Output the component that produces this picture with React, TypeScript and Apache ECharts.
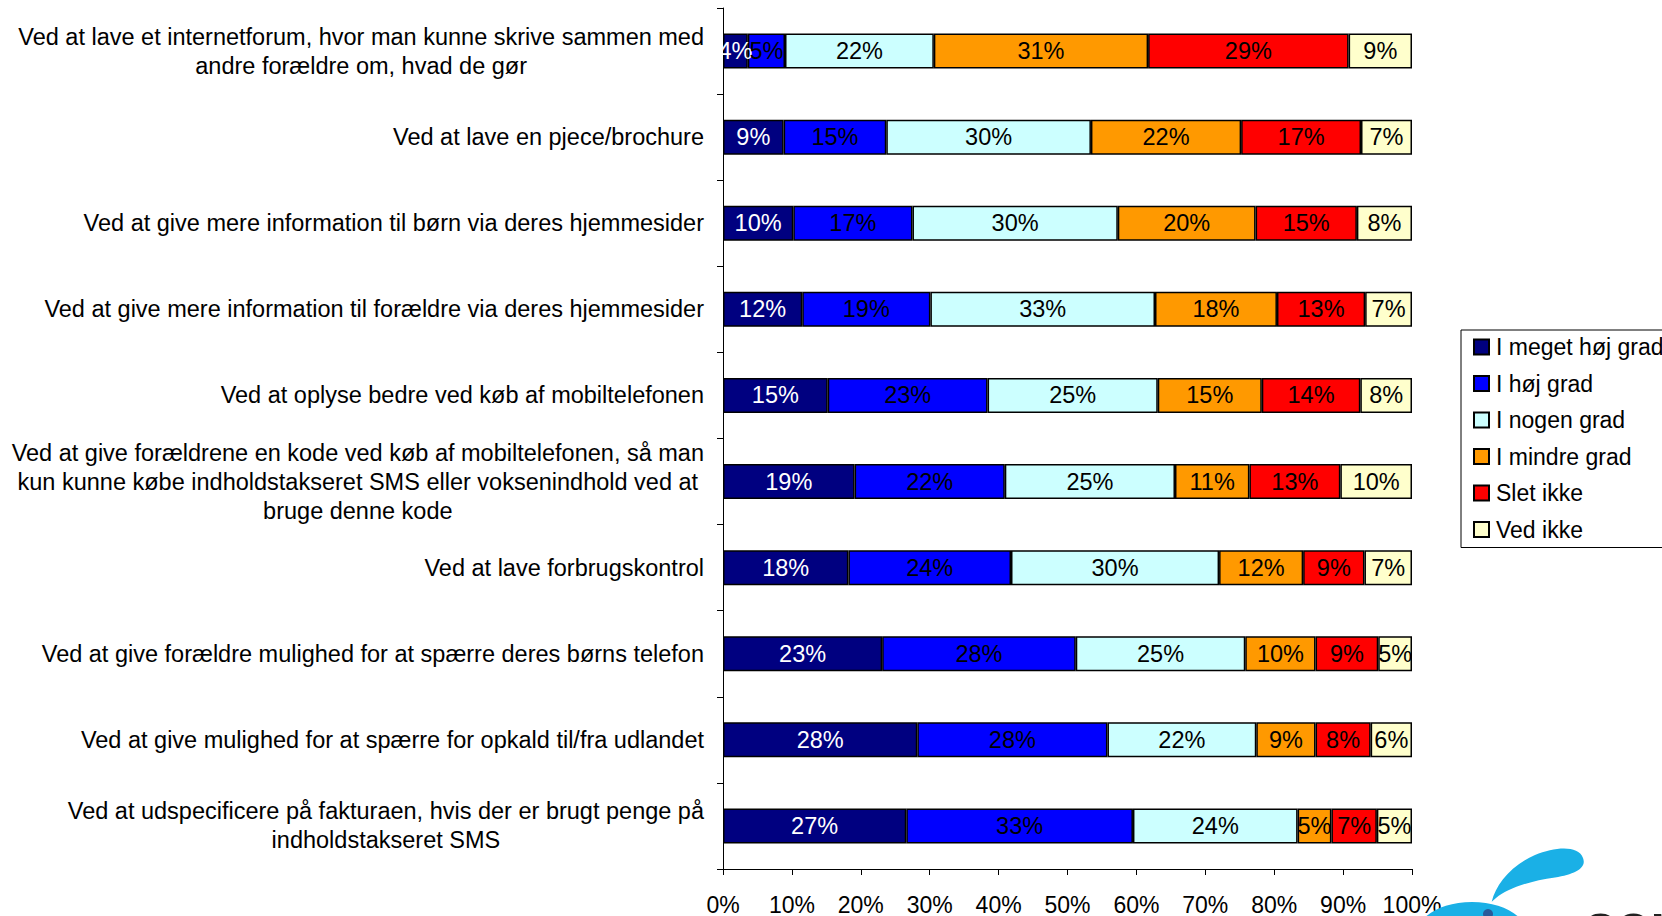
import React, { useEffect, useRef } from "react";
import * as echarts from "echarts";

const categories = [
  "Ved at lave et internetforum, hvor man kunne skrive sammen med\nandre forældre om, hvad de gør",
  "Ved at lave en pjece/brochure",
  "Ved at give mere information til børn via deres hjemmesider",
  "Ved at give mere information til forældre via deres hjemmesider",
  "Ved at oplyse bedre ved køb af mobiltelefonen",
  "Ved at give forældrene en kode ved køb af mobiltelefonen, så man\nkun kunne købe indholdstakseret SMS eller voksenindhold ved at\nbruge denne kode",
  "Ved at lave forbrugskontrol",
  "Ved at give forældre mulighed for at spærre deres børns telefon",
  "Ved at give mulighed for at spærre for opkald til/fra udlandet",
  "Ved at udspecificere på fakturaen, hvis der er brugt penge på\nindholdstakseret SMS",
];

const seriesNames = [
  "I meget høj grad",
  "I høj grad",
  "I nogen grad",
  "I mindre grad",
  "Slet ikke",
  "Ved ikke",
];

const meget = [3.6, 8.8, 10.2, 11.5, 15.2, 19.1, 18.2, 23.1, 28.2, 26.6];
const hoej = [5.4, 14.9, 17.3, 18.6, 23.2, 21.8, 23.6, 28.1, 27.6, 32.9];
const nogen = [21.6, 29.7, 29.8, 32.6, 24.7, 24.7, 30.2, 24.6, 21.6, 23.9];
const mindre = [31.1, 21.8, 20.0, 17.7, 15.1, 10.8, 12.2, 10.2, 8.6, 4.9];
const slet = [29.1, 17.4, 14.7, 12.8, 14.3, 13.2, 8.9, 9.1, 8.0, 6.6];
const vedIkke = [9.2, 7.4, 8.0, 6.8, 7.5, 10.4, 6.9, 4.9, 6.0, 5.1];

const seriesValues = [meget, hoej, nogen, mindre, slet, vedIkke];
const colors = ["#000080", "#0000FF", "#CCFFFF", "#FF9900", "#FF0000", "#FFFFCC"];
const labelColors = ["#FFFFFF", "#000000", "#000000", "#000000", "#000000", "#000000"];

const FONT = "'Liberation Sans', Arial, Helvetica, sans-serif";

const leafPath =
  "M71.7 71.7 C76 55 90 36 115 25 C135 17 158 15 163 28 C167 38 155 44 135 47.5 C110 51 88 58 76 68 Z";

let registered = false;

export default function App() {
  const ref = useRef<HTMLDivElement>(null);

  useEffect(() => {
    document.body.style.margin = "0";
    if (!registered) {
      echarts.graphic.registerShape("leaf", echarts.graphic.extendPath(leafPath, {}));
      registered = true;
    }
    const chart = echarts.init(ref.current!, null, { renderer: "svg" });
    const option: any = {
      animation: false,
      backgroundColor: "#FFFFFF",
      textStyle: { fontFamily: FONT },
      grid: { left: 723, right: 250, top: 8, bottom: 47, containLabel: false },
      xAxis: {
        type: "value",
        min: 0,
        max: 100,
        interval: 10,
        axisLine: { show: true, lineStyle: { color: "#000", width: 1 } },
        axisTick: { show: true, length: 6, lineStyle: { color: "#000" } },
        splitLine: { show: false },
        axisLabel: {
          formatter: "{value}%",
          fontSize: 23,
          color: "#000",
          margin: 24,
          fontFamily: FONT,
        },
      },
      yAxis: {
        type: "category",
        inverse: true,
        data: categories,
        axisLine: { show: true, lineStyle: { color: "#000", width: 1 } },
        axisTick: { show: true, length: 6, lineStyle: { color: "#000" } },
        axisLabel: {
          align: "right",
          margin: 19,
          fontSize: 23.5,
          lineHeight: 29,
          color: "#000",
          fontFamily: FONT,
          formatter: (v: string) =>
            v
              .split("\n")
              .map((l) => "{c|" + l + "}")
              .join("\n"),
          rich: {
            c: {
              align: "center",
              fontSize: 23.5,
              lineHeight: 29,
              color: "#000",
              fontFamily: FONT,
            },
          },
        },
      },
      legend: {
        orient: "vertical",
        left: 1461,
        top: 330,
        padding: [5, 200, 6, 12],
        borderColor: "#000",
        borderWidth: 1,
        itemWidth: 15,
        itemHeight: 15,
        itemGap: 12.5,
        icon: "rect",
        textStyle: { fontSize: 23, lineHeight: 24, color: "#000", fontFamily: FONT, padding: [0, 0, 0, 2] },
        data: seriesNames,
      },
      series: seriesValues.map((vals, i) => ({
        name: seriesNames[i],
        type: "bar",
        stack: "total",
        barWidth: 35,
        data: vals,
        itemStyle: { color: colors[i], borderColor: "#000", borderWidth: 1.5 },
        label: {
          show: true,
          position: "inside",
          fontSize: 23.5,
          color: labelColors[i],
          fontFamily: FONT,
          formatter: (p: any) => Math.round(p.value) + "%",
        },
        emphasis: { disabled: true },
      })),
      graphic: [
        {
          type: "ellipse",
          shape: { cx: 1472, cy: 934, rx: 55, ry: 32 },
          style: { fill: "#1AB0E6" },
          z: 10,
        },
        {
          type: "leaf",
          x: 1420,
          y: 830,
          style: { fill: "#1AB0E6" },
          z: 10,
        },
        {
          type: "circle",
          shape: { cx: 1488, cy: 914, r: 5 },
          style: { fill: "#2A5A9A" },
          z: 11,
        },
        {
          type: "text",
          x: 1585,
          y: 895,
          style: {
            text: "sonofon",
            fontSize: 56,
            fontWeight: "bold",
            fill: "#222222",
            fontFamily: FONT,
            verticalAlign: "top",
          },
          z: 10,
        },
      ],
    };
    chart.setOption(option);
    return () => chart.dispose();
  }, []);

  return <div ref={ref} style={{ width: 1662, height: 916 }} />;
}
